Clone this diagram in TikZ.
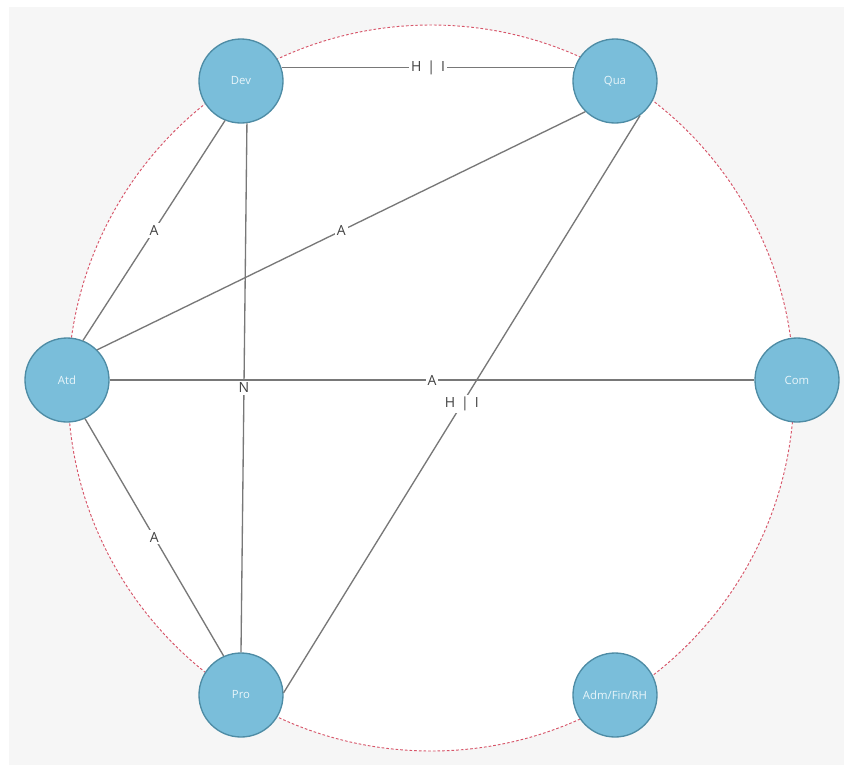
\documentclass[tikz,border=0pt]{standalone}
\usepackage{fontspec}
\setmainfont{Open Sans}
\definecolor{bggray}{RGB}{246,246,246}
\definecolor{nodefill}{RGB}{122,190,218}
\definecolor{nodeedge}{RGB}{78,140,165}
\definecolor{nodetext}{RGB}{232,245,250}
\definecolor{linkgray}{RGB}{120,120,120}
\definecolor{tagtext}{RGB}{65,65,65}
\definecolor{ringred}{RGB}{215,85,105}
\begin{document}
\begin{tikzpicture}[x=0.75pt,y=-0.75pt,
  actor/.style={circle, draw=nodeedge, fill=nodefill, line width=1pt,
    minimum size=63pt, inner sep=0pt, text=nodetext,
    font=\fontsize{8.5}{10}\selectfont},
  link/.style={draw=linkgray, line width=1pt},
  tag/.style={fill=white, inner sep=1.5pt, text=tagtext,
    font=\fontsize{10.5}{12}\selectfont},
  ring/.style={draw=ringred, line width=0.7pt, dash pattern=on 2pt off 1.5pt},
]
\useasboundingbox (0,0) rectangle (844,765);
% page background
\fill[white] (0,0) rectangle (844,765);
\fill[bggray] (9,7) rectangle (844,765);
% dashed ring with white interior
\coordinate (ringc) at (431,388);
\fill[white] (ringc) circle [radius=272.25pt];
\draw[ring] (ringc) circle [radius=272.25pt];

% departments
\node[actor] (dev) at (241,81)  {Dev};
\node[actor] (qua) at (615,81)  {Qua};
\node[actor] (atd) at (67,380)  {Atd};
\node[actor] (com) at (797,380) {Com};
\node[actor] (pro) at (241,695) {Pro};
\node[actor] (adm) at (615,695) {Adm/Fin/RH};

% relations
\draw[link] (dev.18)   -- node[tag]{H\, |\, I} (qua.162);
\draw[link] (dev.-112) -- node[tag]{A} (atd.68);
\draw[link] (atd.45)   -- node[tag]{A} (qua.-134);
\draw[link] (atd.east) -- node[tag]{A} (com.west);
\draw[link] (dev.-82)  -- node[tag]{N} (pro.90);
\draw[link] (atd.-65)  -- node[tag]{A} (pro.114);
\draw[link] (qua.-54)  -- node[tag]{H\, |\, I} (pro.3);
\end{tikzpicture}
\end{document}
